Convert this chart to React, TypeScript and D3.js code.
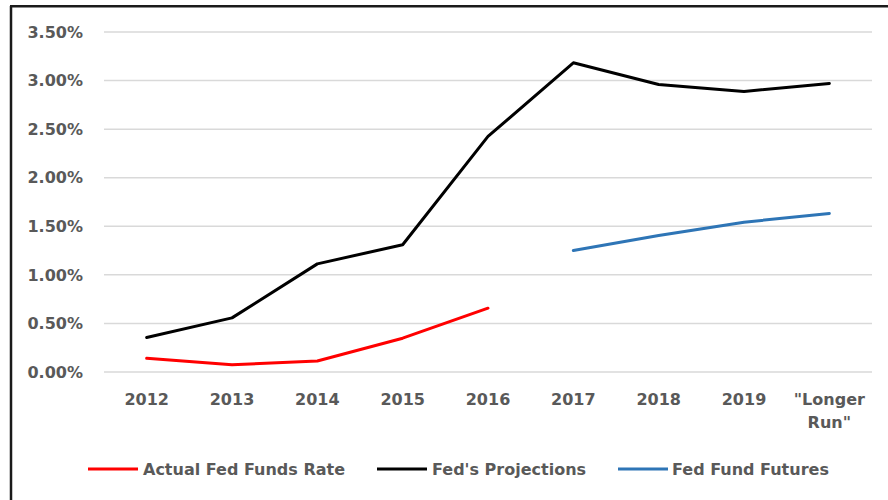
import React from "react";
import * as d3 from "d3";

const categories = ["2012", "2013", "2014", "2015", "2016", "2017", "2018", "2019", "\"Longer Run\""];
const actualRate: (number | null)[] = [0.141, 0.074, 0.113, 0.348, 0.657, null, null, null, null];
const fedProjections: (number | null)[] = [0.355, 0.557, 1.113, 1.31, 2.425, 3.183, 2.96, 2.888, 2.97];
const fedFutures: (number | null)[] = [null, null, null, null, null, 1.25, 1.405, 1.542, 1.632];
const yTicks = [0, 0.5, 1.0, 1.5, 2.0, 2.5, 3.0, 3.5];

const seriesNames = ["Actual Fed Funds Rate", "Fed's Projections", "Fed Fund Futures"];
const seriesColors = ["#ff0000", "#000000", "#2e75b6"];
const seriesData = [actualRate, fedProjections, fedFutures];

const W = 888;
const H = 500;
const FONT = "'DejaVu Sans', Verdana, sans-serif";
const TEXT = "#595959";

export default function App() {
  const x = d3.scaleBand<string>().domain(categories).range([104, 872]).paddingInner(0).paddingOuter(0);
  const y = d3.scaleLinear().domain([0, 3.5]).range([372, 32]);
  const cx = (c: string) => (x(c) as number) + x.bandwidth() / 2;

  const line = d3
    .line<number | null>()
    .defined((d) => d !== null)
    .x((_, i) => cx(categories[i]))
    .y((d) => y(d as number));

  const legendItems = [
    { lx: 88, tx: 143 },
    { lx: 377, tx: 432 },
    { lx: 618, tx: 672 },
  ];

  return (
    <svg
      width={W}
      height={H}
      style={{ position: "absolute", left: 0, top: 0, background: "#fff" }}
    >
      <rect x={0} y={0} width={W} height={H} fill="#fff" />
      {/* frame */}
      <line x1={11} y1={6} x2={11} y2={H} stroke="#1a1a1a" strokeWidth={2.5} />
      <line x1={10} y1={6.2} x2={W} y2={6.2} stroke="#1a1a1a" strokeWidth={2.5} />

      {/* gridlines + y labels */}
      {yTicks.map((t) => (
        <g key={t}>
          <line x1={104} x2={872} y1={y(t)} y2={y(t)} stroke="#d9d9d9" strokeWidth={1.5} />
          <text
            x={83}
            y={y(t)}
            dy="0.36em"
            textAnchor="end"
            fontFamily={FONT}
            fontWeight="bold"
            fontSize={16}
            fill={TEXT}
          >
            {t.toFixed(2) + "%"}
          </text>
        </g>
      ))}

      {/* x labels */}
      {categories.map((c) => {
        const lines = c === "\"Longer Run\"" ? ["\"Longer", "Run\""] : [c];
        return (
          <text
            key={c}
            x={cx(c)}
            y={405}
            textAnchor="middle"
            fontFamily={FONT}
            fontWeight="bold"
            fontSize={16}
            fill={TEXT}
          >
            {lines.map((l, i) => (
              <tspan key={i} x={cx(c)} dy={i === 0 ? 0 : 23}>
                {l}
              </tspan>
            ))}
          </text>
        );
      })}

      {/* series */}
      {seriesData.map((s, i) => (
        <path
          key={seriesNames[i]}
          d={line(s) || ""}
          fill="none"
          stroke={seriesColors[i]}
          strokeWidth={3}
          strokeLinejoin="round"
          strokeLinecap="round"
        />
      ))}

      {/* legend */}
      {seriesNames.map((n, i) => (
        <g key={n}>
          <line
            x1={legendItems[i].lx}
            x2={legendItems[i].lx + 50}
            y1={469}
            y2={469}
            stroke={seriesColors[i]}
            strokeWidth={3}
          />
          <text
            x={legendItems[i].tx}
            y={469}
            dy="0.36em"
            fontFamily={FONT}
            fontWeight="bold"
            fontSize={16}
            fill={TEXT}
          >
            {n}
          </text>
        </g>
      ))}
    </svg>
  );
}
